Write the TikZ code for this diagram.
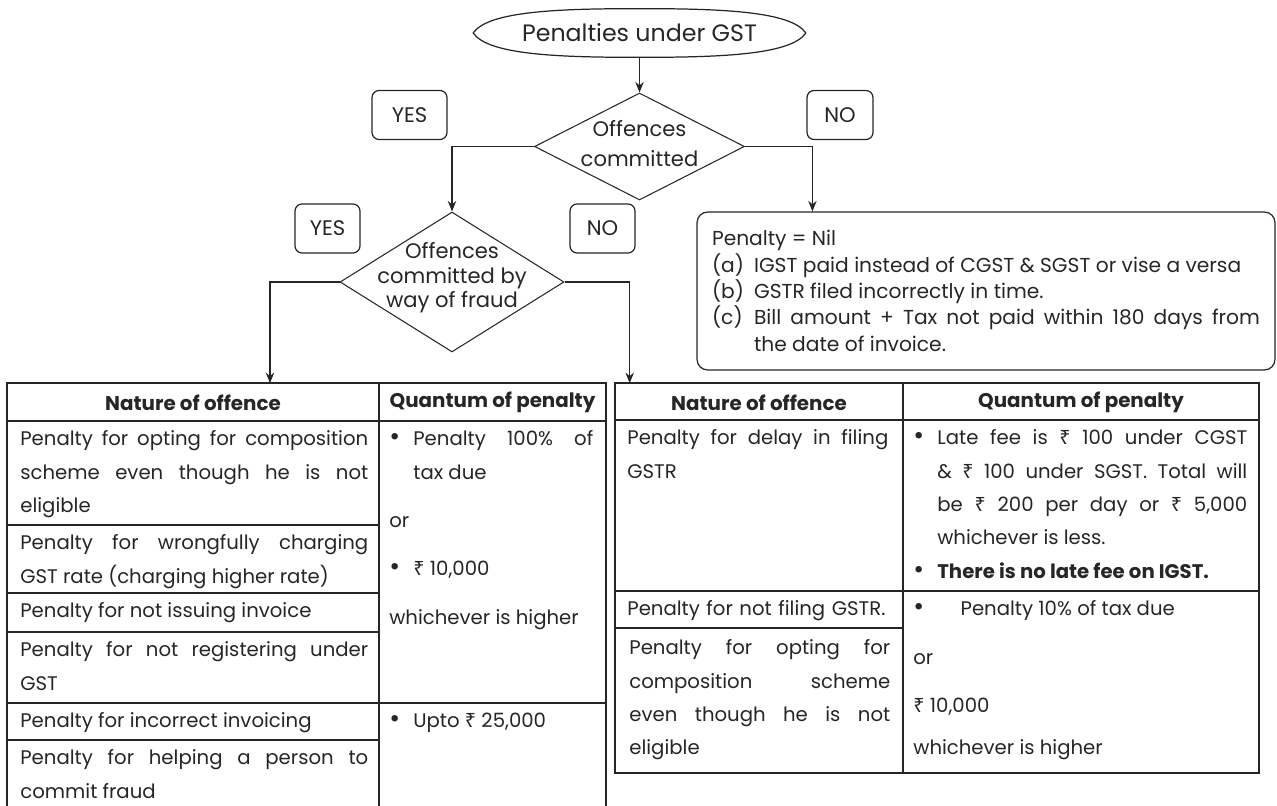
\documentclass[tikz,border=0pt]{standalone}
\usepackage{fontspec}
\setmainfont{Poppins}
\newfontfamily\rsfont{Noto Sans}
\usetikzlibrary{arrows.meta,calc,positioning,shapes.geometric}
\colorlet{ink}{black!85}
\newcommand{\rs}{{\rsfont ₹}}
\newcommand{\titlefont}{\fontsize{13.5}{16}\selectfont}
\newcommand{\flowfont}{\fontsize{12}{14}\selectfont}
\newcommand{\nilfont}{\fontsize{11.5}{15}\selectfont}
\newcommand{\tabfont}{\fontsize{11.2}{19}\selectfont}
\newcommand{\headfont}{\fontsize{11.3}{13}\selectfont\bfseries}
\newcommand{\bitem}[1][0.48cm]{\noindent\hangindent=#1\hangafter=1\strut\makebox[#1][l]{{\fontsize{15}{19}\selectfont\textbullet}}}
\newcommand{\nilitem}[1]{\par\noindent\hangindent=0.84cm\hangafter=1\makebox[0.84cm][l]{#1}}
\setlength{\parindent}{0pt}
\hyphenpenalty=10000
\exhyphenpenalty=10000

\begin{document}
\begin{tikzpicture}[
  x=0.02cm, y=0.02cm,
  every node/.style={text=ink},
  flow/.style={-{Stealth[length=6pt,width=4.8pt]}, line width=0.6pt, draw=ink},
  decision/.style={diamond, draw=ink, line width=0.6pt, inner sep=0pt},
  ynbox/.style={draw=ink, rounded corners=4pt, line width=0.7pt,
                minimum height=0.98cm, inner sep=0pt, font=\flowfont},
  ltab/.style={draw=ink, line width=1.3pt},
  rtab/.style={draw=ink, line width=0.75pt},
  head/.style={minimum height=0.76cm, inner sep=0pt, font=\headfont},
  cell/.style={anchor=north west, inner sep=0pt, align=justify, font=\tabfont}
]
  \useasboundingbox (0,0) rectangle (1277,805);

  % flow chart
  \node[minimum width=6.64cm, minimum height=0.96cm, inner sep=0pt,
        font=\titlefont] (title) at (639.5,772) {Penalties under GST};
  \draw[line width=0.7pt, draw=ink]
    (title.west) .. controls +(15,22) and +(-80,0) .. (title.north)
    .. controls +(80,0) and +(-15,22) .. (title.east)
    .. controls +(-15,-22) and +(80,0) .. (title.south)
    .. controls +(-80,0) and +(15,-22) .. (title.west) -- cycle;

  \node[decision, minimum width=4.2cm, minimum height=2.14cm,
        label={[align=center, font=\fontsize{12}{17}\selectfont, yshift=0.06cm]center:Offences\\committed}]
        (offence) at (639.5,658.5) {};
  \node[decision, minimum width=4.48cm, minimum height=2.8cm,
        label={[align=center, font=\flowfont, yshift=0.08cm]center:Offences\\committed by\\way of fraud}]
        (fraud) at (452,523) {};

  \node[ynbox, minimum width=1.5cm] (yesA) at (409.5,690) {YES};
  \node[ynbox, minimum width=1.32cm] (noA) at (840,690) {NO};
  \node[ynbox, minimum width=1.3cm] (yesB) at (327.5,576.5) {YES};
  \node[ynbox, minimum width=1.3cm] (noB) at (602.5,576.5) {NO};

  \node[draw=ink, rounded corners=6pt, line width=0.7pt, minimum width=11.56cm,
        minimum height=3.16cm, text width=10.96cm, align=justify, inner sep=0pt,
        font=\nilfont] (nilbox) at (986,514)
  {Penalty = Nil
   \nilitem{(a)}IGST paid instead of CGST \& SGST or vise a versa
   \nilitem{(b)}GSTR filed incorrectly in time.
   \nilitem{(c)}Bill amount + Tax not paid within 180 days from\linebreak the date of invoice.\par};

  \draw[flow] (title) -- (offence);
  \draw[flow] (offence.west) -| (fraud.north);
  \draw[flow] (offence.east) -| ([xshift=2.32cm]nilbox.north west);

  % left table
  \node[head, minimum width=7.44cm] (lhdA) at (193,402.5) {Nature of offence};
  \node[head, minimum width=4.54cm] (lhdB) at (492.5,402.5) {Quantum of penalty};
  \draw[ltab] (7,422) rectangle (606,-20);
  \draw[ltab] (7,384) -- (606,384);
  \draw[ltab] (379,422) -- (379,-20);
  \foreach \y in {280,212,173,65}
    \draw[ltab] (7,\y) -- (379,\y);
  \draw[ltab] (7,102) -- (606,102);

  \node[cell, text width=6.96cm] (lA) at (20,383)
    {\strut Penalty for opting for composition\linebreak scheme even though he is not\linebreak eligible};
  \node[cell, text width=6.96cm] (lB) at (20,279)
    {\strut Penalty for wrongfully charging\linebreak GST rate (charging higher rate)};
  \node[cell, text width=6.96cm] (lC) at (20,211)
    {\strut Penalty for not issuing invoice};
  \node[cell, text width=6.96cm] (lD) at (20,172)
    {\strut Penalty for not registering under\linebreak GST};
  \node[cell, text width=6.96cm] (lE) at (20,101)
    {\strut Penalty for incorrect invoicing};
  \node[cell, text width=6.96cm] (lF) at (20,64)
    {\strut Penalty for helping a person to\linebreak commit fraud};
  \node[cell, text width=4.08cm] (lqA) at (389,383)
    {\bitem Penalty 100\% of\linebreak tax due
     \par\vspace{8.5pt}\strut or
     \par\vspace{8.5pt}\bitem \rs~10,000
     \par\vspace{8.5pt}\strut whichever is higher};
  \node[cell, text width=4.08cm] (lqB) at (389,101)
    {\bitem Upto \rs~25,000};

  % right table
  \node[head, minimum width=5.76cm] (rhdA) at (759,402.5) {Nature of offence};
  \node[head, minimum width=7.12cm] (rhdB) at (1081,402.5) {Quantum of penalty};
  \draw[rtab] (615,422) rectangle (1259,32);
  \draw[rtab] (615,385) -- (1259,385);
  \draw[rtab] (903,422) -- (903,32);
  \draw[rtab] (615,214) -- (1259,214);
  \draw[rtab] (615,177) -- (903,177);

  \node[cell, text width=5.22cm] (rA) at (627,384)
    {\strut Penalty for delay in filing\linebreak GSTR};
  \node[cell, text width=5.3cm, align=left] (rB) at (627,213)
    {\strut Penalty for not filing GSTR.};
  \node[cell, text width=5.22cm] (rC) at (629,174)
    {\strut Penalty for opting for\linebreak composition scheme\linebreak even though he is not\linebreak eligible};
  \node[cell, text width=6.68cm] (rqA) at (913,384)
    {\bitem Late fee is \rs~100 under CGST\linebreak \& \rs~100 under SGST. Total will\linebreak
     be \rs~200 per day or \rs~5,000\linebreak whichever is less.
     \par\bitem \textbf{There is no late fee on IGST.}};
  \node[cell, text width=6.68cm] (rqB) at (913,213)
    {\bitem[0.84cm] Penalty 10\% of tax due
     \par\vspace{9pt}\strut or
     \par\vspace{8pt}\strut\rs~10,000
     \par\vspace{5pt}\strut whichever is higher};

  \draw[flow] (fraud.west) -| ([xshift=1.54cm]lhdA.north);
  \draw[flow] (fraud.east) -| ([xshift=0.3cm]rhdA.north west);
\end{tikzpicture}
\end{document}
